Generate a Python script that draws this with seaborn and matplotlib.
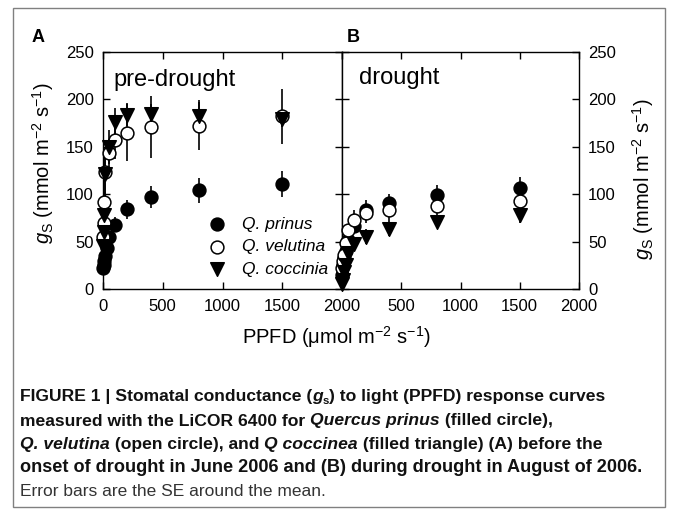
import matplotlib
matplotlib.use("Agg")
import matplotlib.pyplot as plt
import seaborn as sns
import pandas as pd
from matplotlib.patches import Rectangle

# pre-drought (panel A), June 2006
ppfd_pre_prinus = [0, 5, 10, 20, 30, 50, 100, 200, 400, 800, 1500]
gs_pre_prinus = [22, 25, 30, 35, 43, 55, 68, 84, 97, 104, 111]
se_pre_prinus = [3, 3, 4, 4, 5, 6, 8, 10, 12, 13, 14]

ppfd_pre_velutina = [0, 5, 10, 20, 50, 100, 200, 400, 800, 1500]
gs_pre_velutina = [55, 70, 92, 123, 143, 157, 165, 171, 172, 182]
se_pre_velutina = [5, 8, 10, 25, 15, 20, 30, 33, 25, 29]

ppfd_pre_coccinia = [0, 5, 10, 20, 50, 100, 200, 400, 800, 1500]
gs_pre_coccinia = [45, 60, 78, 121, 150, 176, 184, 185, 182, 179]
se_pre_coccinia = [5, 6, 10, 28, 18, 15, 12, 10, 17, 8]

# drought (panel B), August 2006
ppfd_dro = [0, 10, 20, 30, 50, 100, 200, 400, 800, 1500]
gs_dro_prinus = [15, 25, 33, 40, 52, 66, 83, 91, 99, 107]
se_dro_prinus = [2, 3, 3, 4, 5, 6, 11, 9, 11, 11]
gs_dro_velutina = [22, 30, 36, 48, 62, 73, 80, 83, 88, 93]
se_dro_velutina = [4, 4, 5, 5, 6, 10, 10, 14, 12, 10]
gs_dro_coccinia = [5, 10, 18, 25, 38, 47, 55, 63, 71, 78]
se_dro_coccinia = [2, 2, 3, 4, 5, 6, 8, 7, 7, 8]

species = ['Q. prinus', 'Q. velutina', 'Q. coccinia']
y_ticks = [0, 50, 100, 150, 200, 250]
x_ticks = [0, 500, 1000, 1500, 2000]

sns.set_theme(style="ticks")
plt.rcParams['font.family'] = ['Liberation Sans', 'DejaVu Sans']
plt.rcParams['mathtext.fontset'] = 'custom'
plt.rcParams['mathtext.rm'] = 'Liberation Sans'
plt.rcParams['mathtext.it'] = 'Liberation Sans:italic'
plt.rcParams['mathtext.bf'] = 'Liberation Sans:bold'
plt.rcParams['text.color'] = 'black'
plt.rcParams['axes.labelcolor'] = 'black'

W, H = 673, 515
fig = plt.figure(figsize=(W / 100, H / 100), dpi=100)
ax_a = fig.add_axes([103 / W, 1 - 289 / H, 239 / W, 237 / H])
ax_b = fig.add_axes([342 / W, 1 - 289 / H, 237 / W, 237 / H])

styles = {
    'Q. prinus': dict(marker='o', facecolor='black', edgecolor='black', s=85),
    'Q. velutina': dict(marker='o', facecolor='white', edgecolor='black', s=85),
    'Q. coccinia': dict(marker='v', facecolor='black', edgecolor='black', s=95),
}

panel_a = {
    'Q. prinus': (ppfd_pre_prinus, gs_pre_prinus, se_pre_prinus),
    'Q. velutina': (ppfd_pre_velutina, gs_pre_velutina, se_pre_velutina),
    'Q. coccinia': (ppfd_pre_coccinia, gs_pre_coccinia, se_pre_coccinia),
}
panel_b = {
    'Q. prinus': (ppfd_dro, gs_dro_prinus, se_dro_prinus),
    'Q. velutina': (ppfd_dro, gs_dro_velutina, se_dro_velutina),
    'Q. coccinia': (ppfd_dro, gs_dro_coccinia, se_dro_coccinia),
}

for ax, panel in [(ax_a, panel_a), (ax_b, panel_b)]:
    for sp in species:
        x, y, se = panel[sp]
        df = pd.DataFrame({'ppfd': x, 'gs': y, 'se': se})
        ax.errorbar(df['ppfd'], df['gs'], yerr=df['se'], fmt='none',
                    ecolor='black', elinewidth=1.2, capsize=0, clip_on=False)
        sns.scatterplot(data=df, x='ppfd', y='gs', ax=ax, label=sp,
                        linewidth=1.1, clip_on=False, zorder=3, legend=False,
                        **styles[sp])
    ax.set_xlim(0, 2000)
    ax.set_ylim(0, 250)
    ax.set_xticks(x_ticks)
    ax.set_yticks(y_ticks)
    ax.set_xlabel('')
    ax.set_ylabel('')
    ax.tick_params(direction='in', top=True, right=True, length=5, width=1,
                   labelsize=12, colors='black', labelcolor='black')
    ax.tick_params(axis='x', pad=7.5)
    ax.tick_params(axis='y', pad=6.5)
    for s in ax.spines.values():
        s.set_linewidth(1)
        s.set_color('black')

ax_b.tick_params(labelleft=False, labelright=True)
ax_b.set_xticks(x_ticks)
ax_b.set_xticklabels(['', '500', '1000', '1500', '2000'])

ylab = r'$g_{\mathrm{S}}$ (mmol m$^{-2}$ s$^{-1}$)'
ax_a.set_ylabel(ylab, fontsize=14.5)
ax_a.yaxis.set_label_coords(-0.197, 0.53)
ax_b.set_ylabel(ylab, fontsize=14.5)
ax_b.yaxis.set_label_position('right')
ax_b.yaxis.label.set_rotation(90)
ax_b.yaxis.set_label_coords(1.215, 0.464)

ax_a.text(0.042, 0.88, 'pre-drought', transform=ax_a.transAxes, fontsize=17,
          va='center', ha='left')
ax_b.text(0.072, 0.89, 'drought', transform=ax_b.transAxes, fontsize=17,
          va='center', ha='left')

h, l = ax_a.get_legend_handles_labels()
ax_a.legend(h, l, loc='upper left', bbox_to_anchor=(0.433, 0.305),
            frameon=False, prop={'style': 'italic', 'size': 12.5},
            handlelength=1.2, handletextpad=0.84, labelspacing=0.42,
            borderpad=0, borderaxespad=0)

fig.text(32 / W, 1 - 37 / H, 'A', fontsize=13, fontweight='bold', va='center')
fig.text(347 / W, 1 - 37 / H, 'B', fontsize=13, fontweight='bold', va='center')
fig.text(336 / W, 1 - 337 / H, r'PPFD ($\mathrm{\mu}$mol m$^{-2}$ s$^{-1}$)',
         fontsize=14.5, ha='center', va='center')

# caption
fig.canvas.draw()
renderer = fig.canvas.get_renderer()
cap_font = ['Liberation Sans Narrow', 'Liberation Sans', 'DejaVu Sans']
cap_size = 12.6


def text_width(s, **kw):
    t1 = fig.text(0, 0, s + 'x', **kw)
    t2 = fig.text(0, 0, 'x', **kw)
    w = t1.get_window_extent(renderer).width - t2.get_window_extent(renderer).width
    t1.remove()
    t2.remove()
    return w


def draw_runs(x_px, y_px, runs, color='#111111'):
    for s, weight, style, dy, size in runs:
        kw = dict(fontsize=size, fontweight=weight, fontstyle=style,
                  family=cap_font, color=color)
        fig.text(x_px / W, 1 - (y_px + dy) / H, s, va='center', ha='left', **kw)
        x_px += text_width(s, **kw)


B, N, I = 'bold', 'normal', 'italic'
draw_runs(20, 397, [('FIGURE 1 | Stomatal conductance (', B, N, 0, cap_size),
                    ('g', B, I, 0, cap_size),
                    ('s', B, N, 4, cap_size * 0.65),
                    (') to light (PPFD) response curves', B, N, 0, cap_size)])
draw_runs(20, 421, [('measured with the LiCOR 6400 for ', B, N, 0, cap_size),
                    ('Quercus prinus', B, I, 0, cap_size),
                    (' (filled circle),', B, N, 0, cap_size)])
draw_runs(20, 445, [('Q. velutina', B, I, 0, cap_size),
                    (' (open circle), and ', B, N, 0, cap_size),
                    ('Q coccinea', B, I, 0, cap_size),
                    (' (filled triangle) (A) before the', B, N, 0, cap_size)])
draw_runs(20, 468, [('onset of drought in June 2006 and (B) during drought in August of 2006.',
                     B, N, 0, 13.1)])
draw_runs(20, 491, [('Error bars are the SE around the mean.', N, N, 0, 12.5)],
          color='#333333')

fig.add_artist(Rectangle((13 / W, 1 - 507 / H), 652 / W, 499 / H,
                         transform=fig.transFigure, fill=False,
                         edgecolor='#808080', linewidth=1))

fig.savefig('out.png', dpi=100)
